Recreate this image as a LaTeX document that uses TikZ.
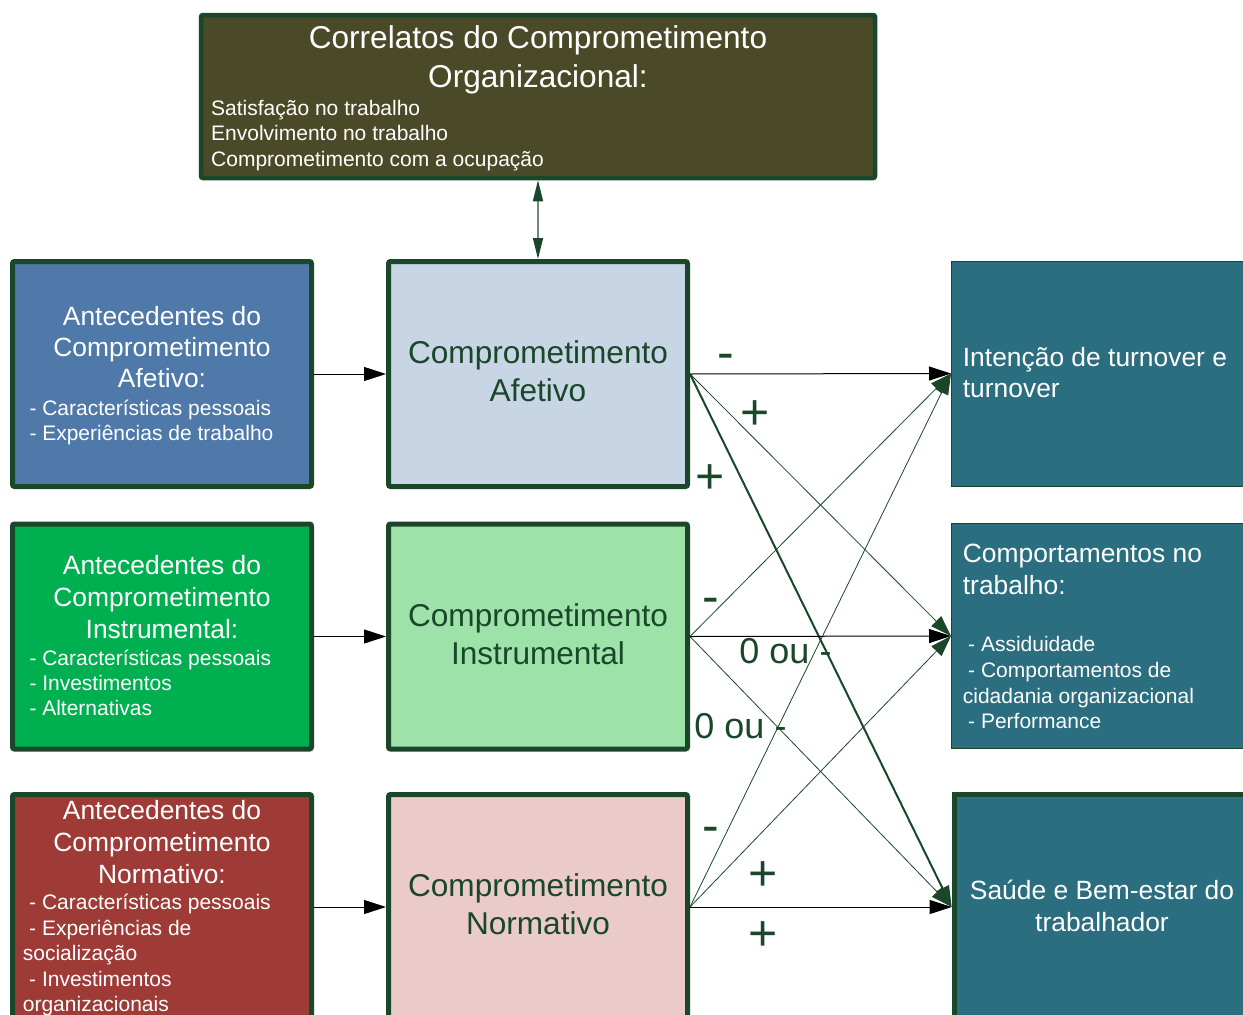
\documentclass[tikz,border=0pt]{standalone}
\usepackage{fontspec}
\setmainfont{Liberation Sans}
\usetikzlibrary{arrows.meta}
\definecolor{dkg}{HTML}{1A472A}
\definecolor{topfill}{HTML}{4B4A28}
\definecolor{bluef}{HTML}{4F79A9}
\definecolor{greenf}{HTML}{00B050}
\definecolor{redf}{HTML}{9E3B36}
\definecolor{lbluef}{HTML}{C8D5E5}
\definecolor{lgreenf}{HTML}{9CE2A9}
\definecolor{pinkf}{HTML}{EACBCA}
\definecolor{tealf}{HTML}{2A6E7F}
\definecolor{dblline}{HTML}{6E8A78}
\tikzset{
  box/.style={draw=dkg, line width=5pt, rounded corners=2pt, inner sep=0, minimum width=299pt, minimum height=225pt},
  tbox/.style={draw=dkg, line width=1pt, fill=tealf, inner sep=0, minimum width=320pt, minimum height=225pt},
  ttl/.style={font=\fontsize{26.4}{30}\selectfont, text=white, anchor=base, inner sep=0},
  itm/.style={font=\fontsize{21}{25}\selectfont, text=white, anchor=base west, inner sep=0},
  midt/.style={font=\fontsize{31.6}{36}\selectfont, text=dkg, anchor=base, inner sep=0},
  sgn/.style={font=\fontsize{50}{50}\selectfont, text=dkg, inner sep=0},
  zou/.style={font=\fontsize{36}{40}\selectfont, text=dkg, anchor=base, inner sep=0},
  harr/.style={draw=black, line width=1pt, -{Triangle[length=22pt,width=14pt]}},
  darr/.style={draw=dkg, line width=0.8pt, -{Triangle[length=21pt,width=14pt]}},
}
\begin{document}
\begin{tikzpicture}[x=1pt,y=-1pt]
\useasboundingbox (0,0) rectangle (1243,1015);
\clip (0,0) rectangle (1243,1015);
\fill[white] (0,0) rectangle (1243,1015);

% top box
\node[draw=dkg, line width=4.5pt, rounded corners=2pt, fill=topfill, inner sep=0, minimum width=674pt, minimum height=163pt] (top) at (538,96.5) {};
\node[font=\fontsize{31.6}{36}\selectfont, text=white, anchor=base, inner sep=0] (top1) at (538,48) {Correlatos do Comprometimento};
\node[font=\fontsize{31.6}{36}\selectfont, text=white, anchor=base, inner sep=0] (top2) at (538,87) {Organizacional:};
\node[itm] (top3) at (211,115) {Satisfação no trabalho};
\node[itm] (top4) at (211,140.5) {Envolvimento no trabalho};
\node[itm] (top5) at (211,166) {Comprometimento com a ocupação};

% left column
\node[box, fill=bluef] (lA) at (162,374) {};
\node[ttl] (lA1) at (162,325) {Antecedentes do};
\node[ttl] (lA2) at (162,356) {Comprometimento};
\node[ttl] (lA3) at (162,387.7) {Afetivo:};
\node[itm] (lA4) at (29.3,415) {- Características pessoais};
\node[itm] (lA5) at (29.3,440.7) {- Experiências de trabalho};

\node[box, fill=greenf] (lB) at (162,636.5) {};
\node[ttl] (lB1) at (162,574) {Antecedentes do};
\node[ttl] (lB2) at (162,606.7) {Comprometimento};
\node[ttl] (lB3) at (162,638) {Instrumental:};
\node[itm] (lB4) at (29.3,665) {- Características pessoais};
\node[itm] (lB5) at (29.3,690) {- Investimentos};
\node[itm] (lB6) at (29.3,715) {- Alternativas};

\node[box, fill=redf] (lC) at (162,907) {};
\node[ttl] (lC1) at (162,819.5) {Antecedentes do};
\node[ttl] (lC2) at (162,851.5) {Comprometimento};
\node[ttl] (lC3) at (162,883.5) {Normativo:};
\node[itm] (lC4) at (29,909.5) {- Características pessoais};
\node[itm] (lC5) at (29,935) {- Experiências de};
\node[itm] (lC6) at (22.7,960.5) {socialização};
\node[itm] (lC7) at (29,986) {- Investimentos};
\node[itm] (lC8) at (22.7,1011.5) {organizacionais};

% middle column
\node[box, fill=lbluef] (mA) at (538,374) {};
\node[midt] (mA1) at (538,363.3) {Comprometimento};
\node[midt] (mA2) at (538,401.7) {Afetivo};

\node[box, fill=lgreenf] (mB) at (538,636.5) {};
\node[midt] (mB1) at (538,626) {Comprometimento};
\node[midt] (mB2) at (538,664) {Instrumental};

\node[box, fill=pinkf] (mC) at (538,907) {};
\node[midt] (mC1) at (538,896.7) {Comprometimento};
\node[midt] (mC2) at (538,934) {Normativo};

% right column
\node[tbox, anchor=west] (rA) at (951,373.5) {};
\node[ttl, anchor=base west] (rA1) at (962.7,366.7) {Intenção de turnover e};
\node[ttl, anchor=base west] (rA2) at (962.7,397.7) {turnover};

\node[tbox, anchor=west] (rB) at (951,636) {};
\node[ttl, anchor=base west] (rB1) at (962.7,562.7) {Comportamentos no};
\node[ttl, anchor=base west] (rB2) at (962.7,594.3) {trabalho:};
\node[itm] (rB3) at (968,651) {- Assiduidade};
\node[itm] (rB4) at (968,677) {- Comportamentos de};
\node[itm] (rB5) at (962.7,703) {cidadania organizacional};
\node[itm] (rB6) at (968,728.3) {- Performance};

\node[tbox, line width=5pt, anchor=west, minimum height=225pt] (rC) at (951.7,907) {};
\node[ttl] (rC1) at (1102,899.3) {Saúde e Bem-estar do};
\node[ttl] (rC2) at (1102,931.7) {trabalhador};

% connectors left -> middle
\draw[harr] (lA.east) -- (mA.west);
\draw[harr] (lB.east) -- (mB.west);
\draw[harr] (lC.east) -- (mC.west);

% top double arrow
\draw[draw=dblline, line width=1.5pt, {Triangle[length=21pt,width=10pt,color=dkg]}-{Triangle[length=21pt,width=10pt,color=dkg]}] (top.south) -- (mA.north);

% diagonals
\draw[darr] (mA.east) -- (rB.west);
\draw[darr, line width=2pt] (mA.east) -- (rC.west);
\draw[darr] (mB.east) -- (rA.west);
\draw[darr] (mB.east) -- (rC.west);
\draw[darr] (mC.east) -- (rA.west);
\draw[darr] (mC.east) -- (rB.west);

% middle -> right horizontals
\draw[harr] (mA.east) -- (rA.west);
\draw[harr] (mB.east) -- (rB.west);
\draw[harr] (mC.east) -- (rC.west);

% labels
\node[sgn] (s1) at (725.5,362) {-};
\node[sgn] (s2) at (755.5,415.5) {+};
\node[sgn] (s3) at (710.5,479) {+};
\node[sgn] (s4) at (710.5,606) {-};
\node[zou] (s5) at (785.5,663) {0 ou -};
\node[zou] (s6) at (740.5,738) {0 ou -};
\node[sgn] (s7) at (710.5,835) {-};
\node[sgn] (s8) at (763.5,876.5) {+};
\node[sgn] (s9) at (763.5,936) {+};
\end{tikzpicture}
\end{document}
